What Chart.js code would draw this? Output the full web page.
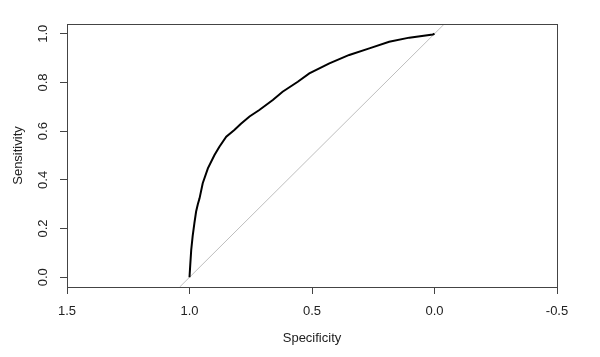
<!DOCTYPE html>
<html>
<head>
<meta charset="utf-8">
<script src="https://cdn.jsdelivr.net/npm/chart.js@4"></script>
<style>
  html, body { margin: 0; padding: 0; background: #fff; }
  #wrap { width: 600px; height: 357px; }
</style>
</head>
<body>
<div id="wrap"><canvas id="c" width="600" height="357"></canvas></div>
<script>
// ROC curve: specificity (x) and sensitivity (y)
const specificity = [1.0, 0.997, 0.993, 0.987, 0.980, 0.973, 0.966, 0.959, 0.946, 0.925, 0.898, 0.878, 0.850, 0.817, 0.790, 0.755, 0.715, 0.660, 0.620, 0.558, 0.511, 0.429, 0.348, 0.266, 0.185, 0.103, 0.007, 0.0];
const sensitivity = [0.0, 0.05, 0.112, 0.17, 0.222, 0.27, 0.300, 0.324, 0.386, 0.447, 0.502, 0.536, 0.577, 0.605, 0.630, 0.660, 0.687, 0.728, 0.762, 0.803, 0.837, 0.878, 0.913, 0.940, 0.967, 0.984, 0.997, 1.0];
// reference (chance) line endpoints
const diagX = [1.04, -0.04];
const diagY = [-0.04, 1.04];
const xTicks = [1.5, 1.0, 0.5, 0.0, -0.5];
const yTicks = [0.0, 0.2, 0.4, 0.6, 0.8, 1.0];

const FONT = "'Liberation Sans', Arial, sans-serif";
const AXC = '#444';
const TXC = '#222';

const boxPlugin = {
  id: 'box',
  afterDraw(chart) {
    const a = chart.chartArea, ctx = chart.ctx;
    ctx.save();
    ctx.strokeStyle = AXC;
    ctx.lineWidth = 1;
    ctx.strokeRect(Math.round(a.left) + 0.5, Math.round(a.top) + 0.5, Math.round(a.right - a.left), Math.round(a.bottom - a.top));
    ctx.restore();
  }
};

new Chart(document.getElementById('c'), {
  type: 'scatter',
  data: {
    datasets: [
      {
        label: 'ROC',
        data: specificity.map((s, i) => ({ x: s, y: sensitivity[i] })),
        showLine: true,
        borderColor: '#000',
        borderWidth: 2,
        pointRadius: 0,
        tension: 0,
        order: 0
      },
      {
        label: 'chance',
        data: diagX.map((s, i) => ({ x: s, y: diagY[i] })),
        showLine: true,
        borderColor: '#bebebe',
        borderWidth: 1,
        pointRadius: 0,
        order: 1
      }
    ]
  },
  options: {
    responsive: false,
    animation: false,
    devicePixelRatio: 1,
    layout: { padding: { top: 24, right: 43, bottom: 0, left: 0 } },
    plugins: { legend: { display: false }, tooltip: { enabled: false } },
    scales: {
      x: {
        type: 'linear',
        reverse: true,
        min: -0.5,
        max: 1.5,
        afterBuildTicks(scale) { scale.ticks = xTicks.map(v => ({ value: v })); },
        afterFit(scale) { scale.height = 70; },
        border: { display: true, color: AXC, width: 1 },
        grid: { drawOnChartArea: false, drawTicks: true, tickLength: 7, color: AXC },
        ticks: {
          color: TXC,
          font: { family: FONT, size: 13 },
          padding: 10,
          maxRotation: 0,
          callback: v => Number(v).toFixed(1)
        },
        title: {
          display: true,
          text: 'Specificity',
          color: TXC,
          font: { family: FONT, size: 13 },
          padding: { top: 0, bottom: 11 }
        }
      },
      y: {
        type: 'linear',
        min: -0.04,
        max: 1.04,
        afterBuildTicks(scale) { scale.ticks = yTicks.map(v => ({ value: v })); },
        afterFit(scale) { scale.width = 67; },
        border: { display: true, color: AXC, width: 1 },
        grid: { drawOnChartArea: false, drawTicks: true, tickLength: 7, color: AXC },
        ticks: {
          color: TXC,
          font: { family: FONT, size: 13 },
          padding: 8,
          minRotation: 90,
          maxRotation: 90,
          crossAlign: 'center',
          callback: v => Number(v).toFixed(1)
        },
        title: {
          display: true,
          text: 'Sensitivity',
          color: TXC,
          font: { family: FONT, size: 13 },
          padding: { top: 11, bottom: 0 }
        }
      }
    }
  },
  plugins: [boxPlugin]
});
</script>
</body>
</html>
